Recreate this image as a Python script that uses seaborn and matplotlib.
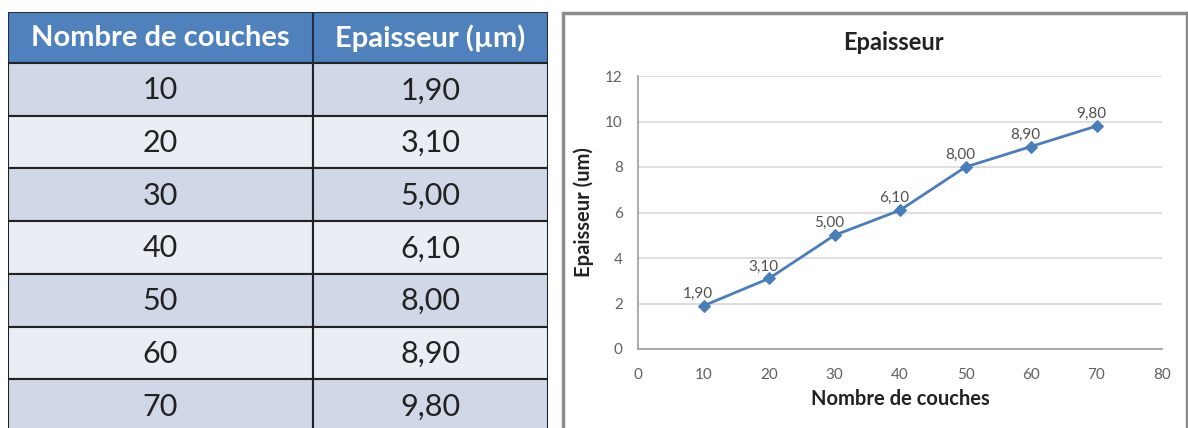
import matplotlib
matplotlib.use("Agg")
import matplotlib.pyplot as plt
import seaborn as sns
import pandas as pd
from matplotlib.patches import Rectangle

# data
couches = [10, 20, 30, 40, 50, 60, 70]
epaisseur = [1.90, 3.10, 5.00, 6.10, 8.00, 8.90, 9.80]
col_headers = ["Nombre de couches", "Epaisseur (µm)"]
x_ticks = [0, 10, 20, 30, 40, 50, 60, 70, 80]
y_ticks = [0, 2, 4, 6, 8, 10, 12]

def fr(v):
    return f"{v:.2f}".replace(".", ",")

sns.set_theme(style="white")
plt.rcParams["font.family"] = ["Lato", "DejaVu Sans"]

fig = plt.figure(figsize=(11.88, 4.28), dpi=100)
W, H = 1188, 428

# ---- table on the left (axes units = pixels) ----
tab = fig.add_axes([8 / W, 0, 540 / W, 416 / H])
tab.set_xlim(0, 540)
tab.set_ylim(416, 0)
tab.axis("off")
head_h = 51
row_h = 52.7
split = 305
header_col = "#4F81BD"
dark = "#D0D8E8"
light = "#E9EDF4"
tab.add_patch(Rectangle((0, 0), 540, head_h, facecolor=header_col, edgecolor="#1F2F4F", lw=1.5))
tab.plot([split, split], [0, head_h], color="#1F2F4F", lw=1.5)
tab.text(split / 2, head_h / 2 + 1, col_headers[0], ha="center", va="center",
         color="white", fontsize=21, fontweight="bold")
tab.text((split + 540) / 2, head_h / 2 + 1, col_headers[1], ha="center", va="center",
         color="white", fontsize=21, fontweight="bold")
for i, (c, e) in enumerate(zip(couches, epaisseur)):
    y0 = head_h + row_h * i
    fc = dark if i % 2 == 0 else light
    tab.add_patch(Rectangle((0, y0), split, row_h, facecolor=fc, edgecolor="#222222", lw=1.5))
    tab.add_patch(Rectangle((split, y0), 540 - split, row_h, facecolor=fc, edgecolor="#222222", lw=1.5))
    tab.text(split / 2, y0 + row_h / 2 + 1, str(c), ha="center", va="center",
             color="#222222", fontsize=22)
    tab.text((split + 540) / 2, y0 + row_h / 2 + 1, fr(e), ha="center", va="center",
             color="#222222", fontsize=22)

# ---- chart frame ----
fig.patches.append(Rectangle((563 / W, -0.05), (W - 564) / W, (415 / H) + 0.05,
                             transform=fig.transFigure, facecolor="none",
                             edgecolor="#8C8C8C", lw=2.5, zorder=-1))

ax = fig.add_axes([638 / W, 1 - 349 / H, 524 / W, 273 / H])
df = pd.DataFrame({"couches": couches, "epaisseur": epaisseur})
sns.lineplot(data=df, x="couches", y="epaisseur", ax=ax, color="#4A7EBB", lw=2,
             marker="D", markersize=6.5, markeredgecolor="#4A7EBB")
for c, e in zip(couches, epaisseur):
    ax.annotate(fr(e), (c, e), xytext=(-4, 3.5), textcoords="offset points",
                ha="center", va="bottom", fontsize=11, color="#505050")
ax.set_xlim(0, 80)
ax.set_ylim(0, 12)
ax.set_xticks(x_ticks)
ax.set_yticks(y_ticks)
ax.tick_params(axis="y", labelsize=11, labelcolor="#606060", length=0, pad=11)
ax.tick_params(axis="x", labelsize=11, labelcolor="#606060", length=4, width=0.8,
               color="#B0B0B0", direction="out", pad=10)
ax.yaxis.grid(True, color="#D9D9D9", lw=1.2)
for s in ["top", "right"]:
    ax.spines[s].set_visible(False)
for s in ["left", "bottom"]:
    ax.spines[s].set_color("#A0A0A0")
ax.set_xlabel("Nombre de couches", fontsize=14.5, fontweight="bold", color="#222222", labelpad=5)
ax.set_ylabel("Epaisseur (um)", fontsize=14.5, fontweight="bold", color="#222222", labelpad=8)
fig.text(893 / W, 1 - 42 / H, "Epaisseur", ha="center", va="center",
         fontsize=17, fontweight="bold", color="#222222")

fig.savefig("out.png", dpi=100)
